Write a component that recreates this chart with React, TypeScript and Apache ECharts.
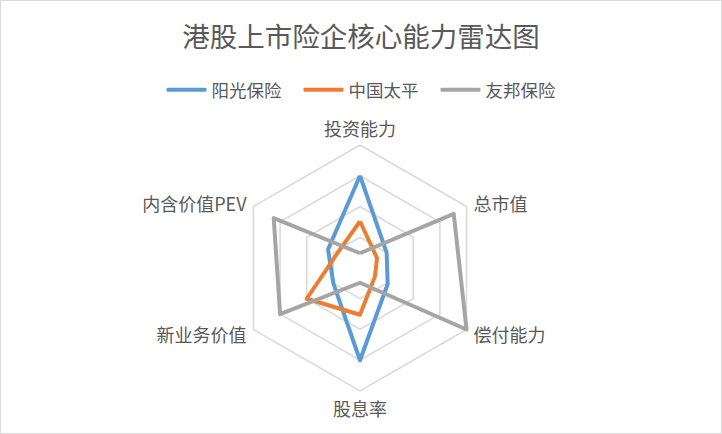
import React, { useEffect, useRef } from "react";
import * as echarts from "echarts";

// indicator order runs counter-clockwise from the top (ECharts default)
const indicators = ["投资能力", "内含价值PEV", "新业务价值", "股息率", "偿付能力", "总市值"];
const seriesNames = ["阳光保险", "中国太平", "友邦保险"];
const colors = ["#5B9BD5", "#ED7D31", "#A5A5A5"];

const sunshine = [0.75, 0.3, 0.25, 0.75, 0.26, 0.25];
const taiping = [0.38, 0.22, 0.5, 0.38, 0.14, 0.16];
const aia = [0.12, 0.81, 0.75, 0.12, 1.0, 0.88];

const FONT = '"Noto Sans CJK SC", "Noto Sans", sans-serif';

export default function App() {
  const chartRef = useRef<HTMLDivElement>(null);

  useEffect(() => {
    document.body.style.margin = "0";
    if (!chartRef.current) return;
    const chart = echarts.init(chartRef.current, null, { renderer: "svg" });
    const values = [sunshine, taiping, aia];

    chart.setOption({
      animation: false,
      backgroundColor: "#ffffff",
      title: {
        text: "港股上市险企核心能力雷达图",
        left: "center",
        top: 15,
        textStyle: { color: "#595959", fontSize: 27.5, fontWeight: "normal", fontFamily: FONT }
      },
      legend: {
        data: seriesNames,
        top: 75,
        left: "center",
        icon: "roundRect",
        itemWidth: 40,
        itemHeight: 4,
        itemGap: 22,
        textStyle: { color: "#595959", fontSize: 17.5, fontFamily: FONT }
      },
      radar: {
        center: [359, 267],
        radius: 123,
        shape: "polygon",
        splitNumber: 4,
        indicator: indicators.map((name) => ({ name, min: 0, max: 1 })),
        axisName: { color: "#595959", fontSize: 18, fontFamily: FONT },
        nameGap: 8,
        axisLine: { show: false },
        axisTick: { show: false },
        axisLabel: { show: false },
        splitArea: { show: false },
        splitLine: { lineStyle: { color: "#D9D9D9", width: 1.5 } }
      },
      series: [
        {
          type: "radar",
          symbol: "none",
          data: seriesNames.map((name, i) => ({
            name,
            value: values[i],
            itemStyle: { color: colors[i] },
            lineStyle: { color: colors[i], width: 4, join: "round" }
          }))
        }
      ]
    });

    return () => {
      chart.dispose();
    };
  }, []);

  return (
    <div style={{ width: 722, height: 434, border: "1px solid #d9d9d9", boxSizing: "border-box", background: "#fff" }}>
      <div ref={chartRef} style={{ width: 720, height: 432 }}></div>
    </div>
  );
}
